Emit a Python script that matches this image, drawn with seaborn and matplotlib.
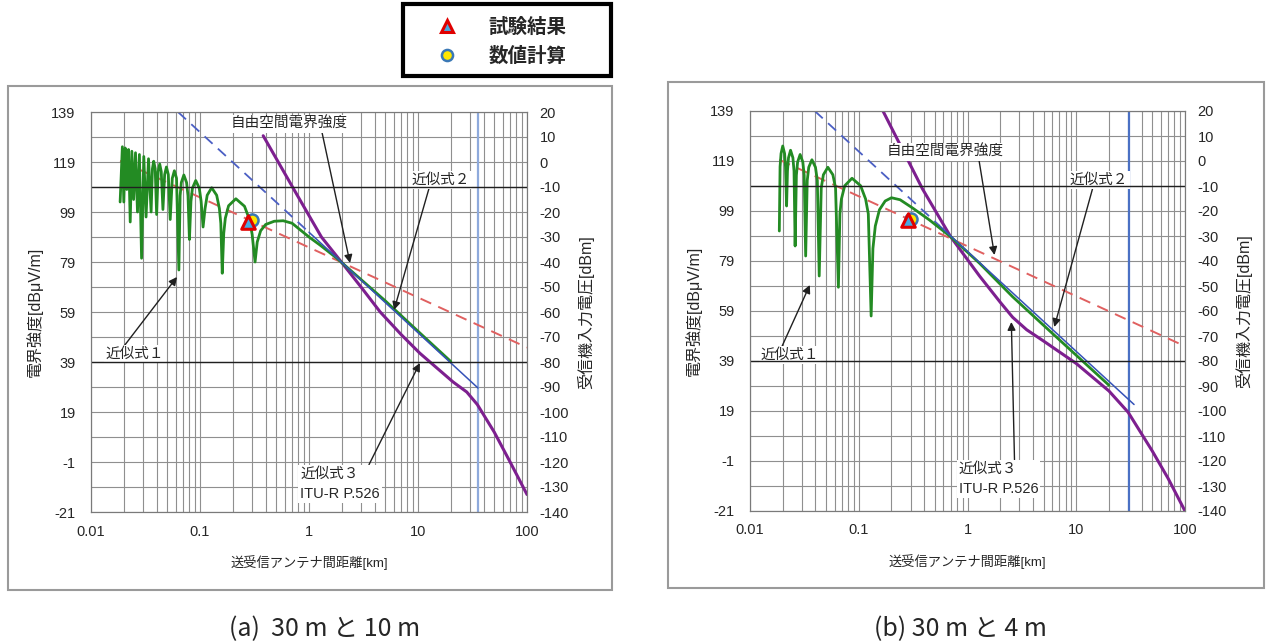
import matplotlib
matplotlib.use("Agg")
import matplotlib.pyplot as plt
import matplotlib.lines as mlines
from matplotlib.patches import Rectangle
import seaborn as sns

sns.set_style("white")
plt.rcParams['font.family'] = ['Liberation Sans', 'Noto Sans CJK JP', 'DejaVu Sans']
plt.rcParams['axes.unicode_minus'] = False

# --- data (distance km, field strength dBuV/m) ---
x_ticks = [0.01, 0.1, 1, 10, 100]
x_tick_labels = ['0.01', '0.1', '1', '10', '100']
left_ticks = [-21, -1, 19, 39, 59, 79, 99, 119, 139]
left_minor = [-11, 9, 29, 49, 69, 89, 109, 129]
right_ticks = [-140, -130, -120, -110, -100, -90, -80, -70, -60, -50, -40,
               -30, -20, -10, 0, 10, 20]
dark_levels = [-10, -80]

# (a) 30 m and 10 m
green_a_km = [0.0185, 0.0194, 0.0200, 0.0206, 0.0213, 0.0221, 0.0229, 0.0237, 0.0246,
              0.0256, 0.0267, 0.0278, 0.0291, 0.0305, 0.0320, 0.0337, 0.0356, 0.0366,
              0.0376, 0.0388, 0.0400, 0.0413, 0.0427, 0.0441, 0.0457, 0.0474, 0.0492,
              0.0512, 0.0533, 0.0557, 0.0582, 0.0609, 0.0640, 0.0657, 0.0674,
              0.0711, 0.0753, 0.0776, 0.0800, 0.0826, 0.0853, 0.0914, 0.0984, 0.1024,
              0.1067, 0.1113, 0.1164, 0.1280, 0.1422, 0.1506, 0.1552, 0.1600, 0.1652,
              0.1707, 0.1829, 0.2133, 0.2560, 0.2844, 0.3010, 0.3200, 0.3350, 0.3600,
              0.4000, 0.4800, 0.5800, 0.7000, 0.8500, 1.0000, 1.2600, 1.8000, 5.0,
              10.0, 20.0]
green_a_db = [103, 125.1, 103, 124.6, 108, 124.0, 95, 123.3, 104,
              122.7, 99, 122.0, 80.5, 121.2, 97, 120.3, 99, 116.3,
              119.3, 116.3, 98, 115.2, 118.2, 115.2, 100, 114, 117.0,
              114, 96, 112.5, 115.5, 112.5, 75.8, 105.5, 110.8,
              113.8, 110.8, 105.5, 88, 103.3, 108.6, 111.6, 108.6, 103.3,
              93, 100.4, 105.7, 108.7, 105.7, 100.4, 94.5, 74.5, 90.5,
              96.5, 101.5, 104.3, 101.3, 96, 90, 79, 87, 91.5,
              94, 95.3, 95.5, 94.5, 91.5, 89, 85.8, 80.5, 63.5,
              51.3, 39.2]
purple_a_km = [0.38, 0.75, 1.3, 1.9, 3, 4.5, 7, 10.4, 15, 21, 28, 35, 50, 70, 100]
purple_a_db = [129.5, 107, 89, 80, 69, 59, 50, 42.5, 36.5, 31, 27, 22, 11, -1, -14]
red_a_km = [0.0185, 100]
red_a_db = [119.5, 44.8]
blue_dash_a_km = [0.0628, 1.0]
blue_dash_a_db = [139, 90.9]
blue_a_km = [1.0, 35.5]
blue_a_db = [90.9, 28.6]
horizon_a_km = 35.6
test_a = (0.277, 95.1)
calc_a = (0.30, 96.0)

# (b) 30 m and 4 m
green_b_km = [0.0186, 0.0189, 0.0193, 0.0200, 0.0208, 0.0212, 0.0217, 0.0221, 0.0226,
              0.0236, 0.0248, 0.0254, 0.0260, 0.0267, 0.0274, 0.0289, 0.0306, 0.0315,
              0.0325, 0.0336, 0.0347, 0.0371, 0.0400, 0.0416, 0.0433, 0.0452, 0.0473,
              0.0520, 0.0578, 0.0612, 0.0650, 0.0671, 0.0693, 0.0743, 0.0867, 0.1040,
              0.1156, 0.1224, 0.1300, 0.1350, 0.1420, 0.1550, 0.1750, 0.2000, 0.2400,
              0.3150, 0.4470, 0.7000, 1.29, 2.6, 5.0, 10.0, 20.0]
green_b_db = [91, 116.7, 122, 125.0, 122, 116.7, 101, 115, 120.3,
              123.3, 120.3, 115, 85, 113.3, 118.6, 121.6, 118.6, 113.3,
              81, 111.2, 116.5, 119.5, 116.5, 111.2, 73, 108.2, 113.5,
              116.5, 113.5, 108.2, 68.5, 97.9, 103.8, 109.1, 112.1, 109.1,
              103.8, 97.9, 57, 84, 93, 99.5, 103, 104.3, 103.5,
              100.1, 95.4, 88.7, 78.1, 64.7, 53.3, 41.3, 29.3]
purple_b_km = [0.167, 0.386, 0.70, 1.29, 2.0, 2.6, 3.5, 5.0, 10, 20, 30, 50, 70, 100]
purple_b_db = [139, 107.8, 88.7, 73, 62.5, 56.5, 51.5, 47, 38, 27, 18.5, 3, -8, -21]
red_b_km = [0.0186, 100]
red_b_db = [119.5, 44.9]
blue_dash_b_km = [0.0394, 0.55]
blue_dash_b_db = [139, 93.2]
blue_b_km = [0.55, 34]
blue_b_db = [93.2, 21.6]
horizon_b_km = 30.8
test_b = (0.284, 95.4)
calc_b = (0.30, 96.0)

W, H = 1271, 643
fig = plt.figure(figsize=(W / 100, H / 100), dpi=100)

# panel frames and legend frame
fig.patches.append(Rectangle((8 / W, 1 - 590 / H), 604 / W, 504 / H, transform=fig.transFigure,
                             fill=False, edgecolor='#9a9a9a', linewidth=1.5))
fig.patches.append(Rectangle((668 / W, 1 - 588 / H), 596 / W, 506 / H, transform=fig.transFigure,
                             fill=False, edgecolor='#9a9a9a', linewidth=1.5))
fig.patches.append(Rectangle((403 / W, 1 - 76 / H), 208 / W, 72 / H, transform=fig.transFigure,
                             fill=False, edgecolor='black', linewidth=3))


def draw_panel(rect, green, purple, red, blue_dash, blue, horizon, horizon_color,
               test, calc, notes):
    ax = fig.add_axes(rect)
    ax.set_xscale('log')
    ax.set_xlim(0.01, 100)
    ax.set_ylim(-21, 139)
    ax.set_yticks(left_ticks)
    ax.set_yticks(left_minor, minor=True)
    ax.set_xticks(x_ticks)
    ax.set_xticklabels(x_tick_labels)
    ax.xaxis.set_minor_locator(matplotlib.ticker.LogLocator(base=10, subs=range(2, 10)))
    ax.xaxis.set_minor_formatter(matplotlib.ticker.NullFormatter())
    ax.grid(True, which='both', color='#8f8f8f', linewidth=0.8)
    ax.tick_params(axis='y', which='both', length=0, labelsize=10.5, pad=11)
    ax.tick_params(axis='x', which='both', length=0, labelsize=10.5, pad=9)
    for s in ax.spines.values():
        s.set_color('#7a7a7a')
    ax.set_xlabel('送受信アンテナ間距離[km]', fontsize=9.5, labelpad=12)
    ax.set_ylabel('電界強度[dBμV/m]', fontsize=11.5, labelpad=6)

    ax2 = ax.twinx()
    ax2.set_ylim(-140, 20)
    ax2.set_yticks(right_ticks)
    ax2.tick_params(length=0, labelsize=10.5, pad=9)
    ax2.set_ylabel('受信機入力電圧[dBm]', fontsize=11.5, labelpad=6)
    for s in ax2.spines.values():
        s.set_color('#7a7a7a')
    for lv in dark_levels:
        ax2.axhline(lv, color='#202020', linewidth=1.0, zorder=1)

    ax.axvline(horizon, color=horizon_color, linewidth=1.6, zorder=2)
    sns.lineplot(x=red[0], y=red[1], ax=ax, color='#e06060', linewidth=1.4,
                 linestyle=(0, (6, 4)), estimator=None, sort=False, zorder=3)
    sns.lineplot(x=blue_dash[0], y=blue_dash[1], ax=ax, color='#4b5fc4', linewidth=1.3,
                 linestyle=(0, (6, 4)), estimator=None, sort=False, zorder=3)
    sns.lineplot(x=purple[0], y=purple[1], ax=ax, color='#7d1f8f', linewidth=2.2,
                 estimator=None, sort=False, zorder=4)
    sns.lineplot(x=green[0], y=green[1], ax=ax, color='#238b23', linewidth=2.0,
                 estimator=None, sort=False, zorder=5)
    sns.lineplot(x=blue[0], y=blue[1], ax=ax, color='#3552b8', linewidth=1.1,
                 estimator=None, sort=False, zorder=6)
    sns.scatterplot(x=[calc[0]], y=[calc[1]], ax=ax, marker='o', s=75, color='#ffe600',
                    edgecolor='#3a78b5', linewidth=1.8, zorder=7)
    sns.scatterplot(x=[test[0]], y=[test[1]], ax=ax, marker='^', s=95, color='#48a8e0',
                    edgecolor='#e00000', linewidth=2.2, zorder=8)

    for text, xytext, tip, rel, ha in notes:
        ax.annotate(text, xy=tip, xycoords='data', xytext=xytext, textcoords='axes fraction',
                    ha=ha, va='center', fontsize=10.5, linespacing=1.6, zorder=9,
                    bbox=dict(facecolor='white', edgecolor='none', pad=1.5),
                    arrowprops=dict(arrowstyle='-|>', color='#202020', lw=1.0,
                                    mutation_scale=12, relpos=rel, shrinkA=0, shrinkB=0))
    return ax


notes_a = [
    ('自由空間電界強度', (0.454, 0.97), (2.38, 78.6), (0.78, 0.0), 'center'),
    ('近似式２', (0.803, 0.83), (6.03, 59.8), (0.3, 0.0), 'center'),
    ('近似式１', (0.101, 0.395), (0.0615, 73), (0.3, 1.0), 'center'),
    ('近似式３\nITU-R P.526', (0.48, 0.07), (10.4, 38.6), (0.85, 1.0), 'left'),
]
notes_b = [
    ('自由空間電界強度', (0.448, 0.8975), (1.77, 81.4), (0.79, 0.0), 'center'),
    ('近似式２', (0.802, 0.8275), (6.28, 52.6), (0.4, 0.0), 'center'),
    ('近似式１', (0.092, 0.39), (0.0355, 69.4), (0.35, 1.0), 'center'),
    ('近似式３\nITU-R P.526', (0.48, 0.08), (2.53, 54.6), (0.7, 1.0), 'left'),
]

draw_panel([91 / W, 1 - 512 / H, 436 / W, 400 / H],
           (green_a_km, green_a_db), (purple_a_km, purple_a_db), (red_a_km, red_a_db),
           (blue_dash_a_km, blue_dash_a_db), (blue_a_km, blue_a_db),
           horizon_a_km, '#8eaadc', test_a, calc_a, notes_a)
draw_panel([750 / W, 1 - 511 / H, 435 / W, 400 / H],
           (green_b_km, green_b_db), (purple_b_km, purple_b_db), (red_b_km, red_b_db),
           (blue_dash_b_km, blue_dash_b_db), (blue_b_km, blue_b_db),
           horizon_b_km, '#4a70c4', test_b, calc_b, notes_b)

# legend entries inside the black box
handles = [
    mlines.Line2D([], [], linestyle='none', marker='^', markersize=9, markerfacecolor='#48a8e0',
                  markeredgecolor='#e00000', markeredgewidth=2.2, label='試験結果'),
    mlines.Line2D([], [], linestyle='none', marker='o', markersize=8, markerfacecolor='#ffe600',
                  markeredgecolor='#3a78b5', markeredgewidth=1.8, label='数値計算'),
]
fig.legend(handles=handles, loc='center left', bbox_to_anchor=(426 / W, 1 - 42 / H),
           frameon=False, handlelength=1.2, handletextpad=1.5, borderpad=0,
           labelspacing=0.5, prop={'weight': 'bold', 'size': 14,
                                   'family': ['Noto Sans CJK JP']})

# captions
cap_font = ['Noto Sans CJK JP']
fig.text(325 / W, 1 - 629 / H, '(a)  30 m と 10 m', ha='center', va='center',
         fontsize=18, family=cap_font)
fig.text(960 / W, 1 - 629 / H, '(b) 30 m と 4 m', ha='center', va='center',
         fontsize=18, family=cap_font)

fig.savefig('out.png', dpi=100)
